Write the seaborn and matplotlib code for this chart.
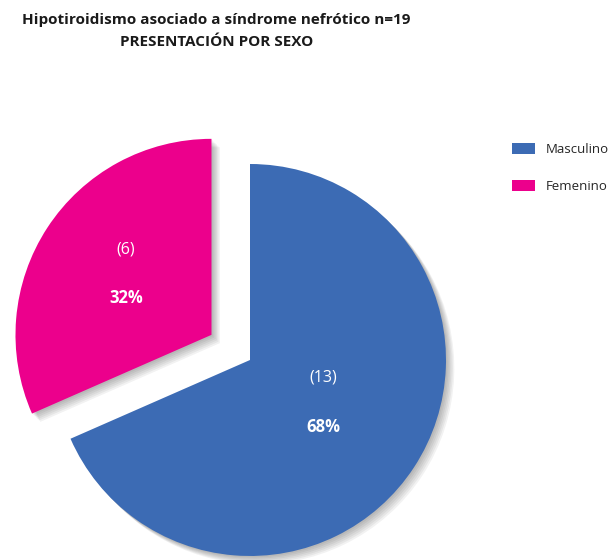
import matplotlib
matplotlib.use("Agg")
import matplotlib.pyplot as plt
import matplotlib.patheffects as pe
from matplotlib.patches import Patch
import seaborn as sns

# Data
categories = ["Masculino", "Femenino"]
counts = [13, 6]
percent_labels = ["68%", "32%"]
colors = ["#3C6BB4", "#EC008C"]
title = "Hipotiroidismo asociado a síndrome nefrótico n=19\nPRESENTACIÓN POR SEXO"

sns.set_theme(style="white")
plt.rcParams["font.family"] = ["Open Sans", "DejaVu Sans"]

W, H = 611, 560
fig = plt.figure(figsize=(W / 100, H / 100), dpi=100)
ax = fig.add_axes([0, 0, 1, 1])

# Soft drop shadow built from stacked translucent offsets
shadow = [pe.SimplePatchShadow(offset=(d, -d), shadow_rgbFace="black", alpha=0.05)
          for d in (1, 2, 3, 4, 5, 6)] + [pe.Normal()]

# Axes are in pixel units, so the explode offset is given in pixels too
wedges, _ = ax.pie(
    counts,
    colors=colors,
    startangle=90,
    counterclock=False,
    explode=[0, 46],
    center=(250, H - 360),
    radius=196,
    wedgeprops=dict(linewidth=0),
    frame=False,
)
for w in wedges:
    w.set_path_effects(shadow)

ax.set_xlim(0, W)
ax.set_ylim(0, H)
ax.set_aspect("equal")
ax.axis("off")

# Count and percentage labels inside each slice
label_pos = {"Masculino": (323, 378, 427), "Femenino": (126, 250, 298)}
for cat, n, pct in zip(categories, counts, percent_labels):
    x, y1, y2 = label_pos[cat]
    ax.text(x, H - y1, f"({n})", color="white", fontsize=11.5,
            ha="center", va="center")
    ax.text(x, H - y2, pct, color="white", fontsize=12, fontweight="bold",
            ha="center", va="center")

fig.text(0.354, 1 - 31 / H, title, ha="center", va="center",
         fontsize=11, fontweight="bold", color="#1a1a1a", linespacing=1.75)

handles = [Patch(facecolor=c, edgecolor="none") for c in colors]
fig.legend(handles, categories, loc="upper left",
           bbox_to_anchor=(512 / W, 1 - 143 / H), frameon=False,
           fontsize=9.5, handlelength=1.75, handleheight=0.9,
           labelspacing=1.8, handletextpad=0.83, borderaxespad=0,
           borderpad=0)

fig.savefig("out.png", dpi=100)
